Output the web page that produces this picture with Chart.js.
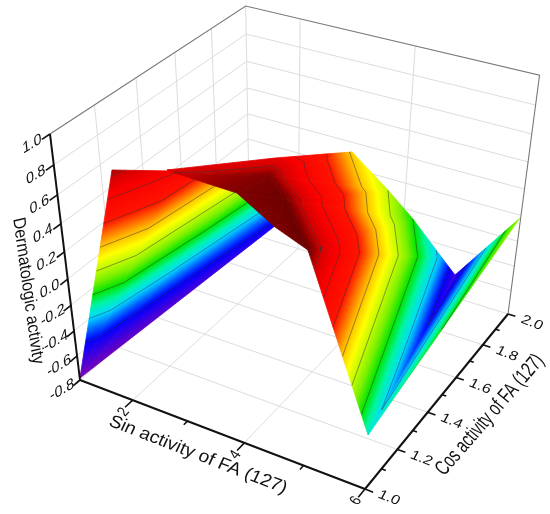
<!DOCTYPE html><html><head><meta charset="utf-8"><style>html,body{margin:0;background:#fff}canvas{display:block}</style>
<script src="https://cdn.jsdelivr.net/npm/chart.js@4"></script></head><body><canvas id="c" width="550" height="514"></canvas>
<script>
// ---- data: surface vertices ----
const sinActivity =[0.969,2.176,2.334,1.985,1.763, 2.550,3.565,3.476,3.309,4.156,2.782,4.021,4.856,4.693,5.517,4.026,4.433,4.968,4.992,6.165,6.082];
const cosActivity =[1.008,0.957,1.194,1.617,1.956, 1.099,1.324,1.642,1.880,1.102,1.061,0.986,0.894,0.996,0.824,1.858,1.883,1.893,2.004,0.933,1.947];
const dermActivity=[-0.80,0.95,0.72,0.08,-0.55, 0.85,0.82,0.52,0.28,1.00,0.90,1.00,1.00,1.03,1.03,0.10,-0.10,-0.35,-0.62,-0.24,0.05];
// triangulation, back to front (indices into the vertex arrays)
const triangles=[[0,1,2],[0,2,3],[0,3,4],
 [5,6,9],[6,7,9],[7,8,9],[10,5,9],[10,9,11],[11,9,13],[11,13,12],[12,13,14],
 [9,8,15],[9,15,13],[13,15,16],[13,16,14],[14,16,17],[14,17,19],[17,18,19],[18,20,19]];
const contourLevels=[-0.5,-0.3,-0.1,0.1,0.3,0.5,0.7,0.9];
const sinTicks=[1,2,3,4,5,6], sinLabels=['2','4','6'];
const cosTicks=[1,1.1,1.2,1.3,1.4,1.5,1.6,1.7,1.8,1.9,2], cosLabels=['1.0','1.2','1.4','1.6','1.8','2.0'];
const dermTicks=[-0.8,-0.6,-0.4,-0.2,0,0.2,0.4,0.6,0.8,1], dermLabels=['-0.8','-0.6','-0.4','-0.2','0.0','0.2','0.4','0.6','0.8','1.0'];
const colorStops=[[-0.8,'#7a00b4'],[-0.65,'#4400dc'],[-0.5,'#0000ff'],[-0.42,'#0050ff'],[-0.3,'#00dcff'],[-0.2,'#00f5a0'],[-0.1,'#00e600'],[0,'#78f000'],[0.1,'#c0fa00'],[0.2,'#ffff00'],[0.33,'#ffb000'],[0.5,'#ff1400'],[0.75,'#f80000'],[0.9,'#d00000'],[0.97,'#900000'],[1.05,'#600000']];

// ---- 3D view: cube corners on the canvas ----
const cA=[80,380],cB=[365,489],cC=[508,314],cD=[249.7,233.5],cE=[50,134],cH=[245.7,6.7];
const det=m=>m[0][0]*(m[1][1]*m[2][2]-m[1][2]*m[2][1])-m[0][1]*(m[1][0]*m[2][2]-m[1][2]*m[2][0])+m[0][2]*(m[1][0]*m[2][1]-m[1][1]*m[2][0]);
function weights(p,q,r,s){const m=[[p[0],q[0],r[0]],[p[1],q[1],r[1]],[1,1,1]],d=det(m),t=[s[0],s[1],1];
 return [0,1,2].map(i=>det(m.map((row,k)=>row.map((v,j)=>j===i?t[k]:v)))/d);}
const [wb,wd]=weights(cB,cD,cC,cA);
const we=((wd-1)*cH[0]-wd*cD[0]+cA[0])/(cE[0]-cH[0]);
const hA=[cA[0],cA[1],1],vecs=[[cB,wb],[cD,wd],[cE,we]].map(([p,w])=>[p[0]*w-hA[0],p[1]*w-hA[1],w-1]);
function P(x,y,z){const u=(x-1)/5,v=y-1,w=(z+0.8)/1.8;
 const q=[0,1,2].map(i=>hA[i]+u*vecs[0][i]+v*vecs[1][i]+w*vecs[2][i]);return {x:q[0]/q[2],y:q[1]/q[2]};}

const canvas=document.getElementById('c'),g2d=canvas.getContext('2d');
const ds=[];
const line=(pts,color,w)=>ds.push({data:pts,showLine:true,borderColor:color,borderWidth:w,pointRadius:0,fill:false,tension:0,borderCapStyle:'butt'});
const X0=1,X1=6,Y0=1,Y1=2,Z0=-0.8,Z1=1;
// wall & floor grid
const grid='#dcdcdc';
[2,4].forEach(x=>{line([P(x,Y0,Z0),P(x,Y1,Z0),P(x,Y1,Z1)],grid,1);});
[1.2,1.4,1.6,1.8].forEach(y=>{line([P(X1,y,Z0),P(X0,y,Z0),P(X0,y,Z1)],grid,1);});
dermTicks.slice(1,-1).forEach(z=>{line([P(X0,Y0,z),P(X0,Y1,z),P(X1,Y1,z)],grid,1);});
line([P(X0,Y0,Z0),P(X0,Y1,Z0),P(X1,Y1,Z0)],grid,1);
line([P(X0,Y1,Z0),P(X0,Y1,Z1)],grid,1);
line([P(X0,Y0,Z1),P(X0,Y1,Z1),P(X1,Y1,Z1),P(X1,Y1,Z0)],'#777777',1.1);
// surface
const V=sinActivity.map((x,i)=>P(x,cosActivity[i],dermActivity[i]));
function gradientFor(t){const [a,b,c]=t.map(i=>V[i]),[za,zb,zc]=t.map(i=>dermActivity[i]);
 const ux=b.x-a.x,uy=b.y-a.y,vx=c.x-a.x,vy=c.y-a.y,d=ux*vy-uy*vx,dz1=zb-za,dz2=zc-za;
 const gx=(dz1*vy-dz2*uy)/d,gy=(ux*dz2-vx*dz1)/d,n=gx*gx+gy*gy;
 const lo=colorStops[0][0],hi=colorStops[colorStops.length-1][0];
 const grad=g2d.createLinearGradient(a.x+gx/n*(lo-za),a.y+gy/n*(lo-za),a.x+gx/n*(hi-za),a.y+gy/n*(hi-za));
 colorStops.forEach(([z,col])=>grad.addColorStop((z-lo)/(hi-lo),col));return grad;}
function contours(t){const out=[];contourLevels.forEach(l=>{const seg=[];
 for(let i=0;i<3;i++){const a=t[i],b=t[(i+1)%3],za=dermActivity[a],zb=dermActivity[b];
  if((za<l)!==(zb<l)){const f=(l-za)/(zb-za);seg.push({x:V[a].x+f*(V[b].x-V[a].x),y:V[a].y+f*(V[b].y-V[a].y)});}}
 if(seg.length===2)out.push(seg);});return out;}
triangles.forEach(t=>{const grad=gradientFor(t),pts=t.concat(t[0]).map(i=>V[i]);
 ds.push({data:pts,showLine:true,fill:'shape',backgroundColor:grad,borderColor:grad,borderWidth:0.8,pointRadius:0,tension:0});});
triangles.forEach(t=>contours(t).forEach(s=>line(s,'rgba(50,50,50,0.7)',0.7)));
// axes & ticks
line([P(X0,Y0,Z0),P(X0,Y0,Z1)],'#111',2);
line([P(X0,Y0,Z0),P(X1,Y0,Z0)],'#111',2);
line([P(X1,Y0,Z0),P(X1,Y1,Z0)],'#111',2);
dermTicks.forEach(z=>line([P(X0,Y0,z),P(X0,Y0-0.035,z)],'#111',1.6));
sinTicks.forEach(x=>line([P(x,Y0,Z0),P(x,Y0-(x%2===0?0.04:0.02),Z0)],'#111',1.6));
cosTicks.forEach((y,i)=>line([P(X1,y,Z0),P(X1+(i%2===0?0.13:0.07),y,Z0)],'#111',1.6));

const textPlugin={id:'axisText',afterDraw(chart){const c=chart.ctx;
 const put=(s,x,y,ex,ey,font,al)=>{c.save();c.setTransform(ex[0],ex[1],ey[0],ey[1],x,y);c.font=font;c.fillStyle='#111';c.textAlign='center';c.textBaseline='middle';c.fillText(s,0,0);c.restore();};
 const f='16px "Liberation Sans"',T='18px "Liberation Sans"';
 dermTicks.forEach((z,i)=>{const p=P(X0,Y0,z);put(dermLabels[i],p.x-18,p.y+10,[0.86,-0.5],[0.1,0.95],f);});
 cosLabels.forEach((s,i)=>{const p=P(X1,1+i*0.2,Z0);put(s,p.x+24,p.y+9,[0.93,0.36],[-0.4,0.75],f);});
 sinLabels.forEach((s,i)=>{const p=P(2+i*2,Y0,Z0);put(s,p.x-9,p.y+12,[0.55,-0.6],[0.85,0.5],f);});
 put('Sin activity of FA (127)',198,455,[0.98,0.38],[-0.42,0.9],T);
 put('Cos activity of FA (127)',490,415,[0.54,-0.62],[0.92,0.75],T);
 put('Dermatologic activity',28,291,[0.12,0.88],[-0.97,0.22],T);
}};
new Chart(canvas,{type:'scatter',data:{datasets:ds.reverse()},plugins:[textPlugin],options:{responsive:false,animation:false,
 layout:{padding:0},events:[],plugins:{legend:{display:false},tooltip:{enabled:false}},
 scales:{x:{type:'linear',min:0,max:550,display:false},y:{type:'linear',min:0,max:514,reverse:true,display:false}}}});
</script></body></html>
